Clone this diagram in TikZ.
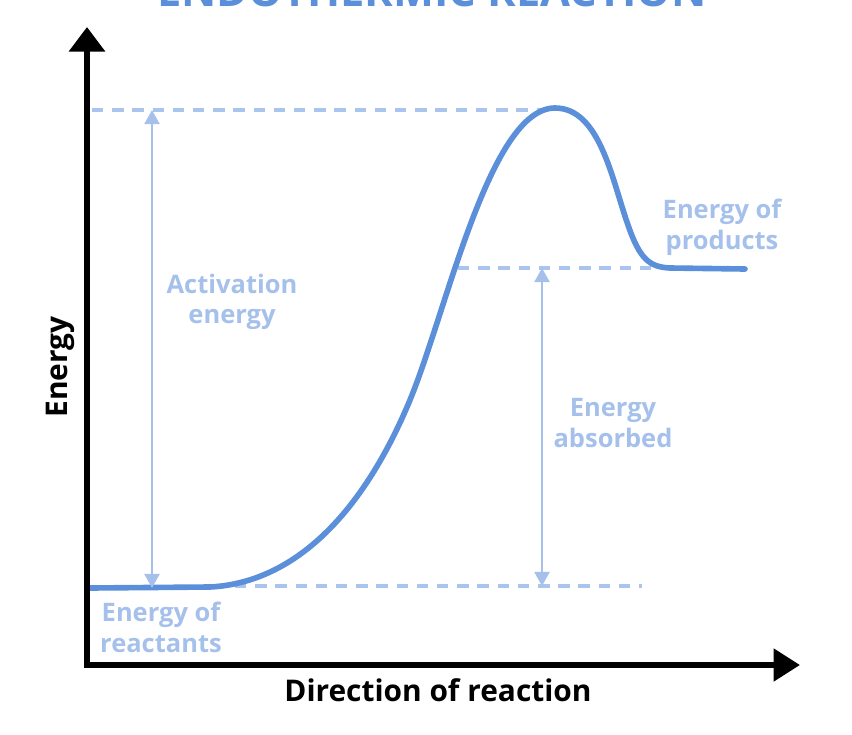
\documentclass[tikz,border=0pt]{standalone}
\usepackage{fontspec}
\setmainfont{Open Sans}
\usetikzlibrary{arrows.meta, positioning, calc}
\definecolor{curveblue}{HTML}{5B8FD9}
\definecolor{paleblue}{HTML}{A5C1EB}
\definecolor{dashblue}{HTML}{A9C5EE}
\tikzset{
  axis/.style={line width=3.4pt, {Triangle[length=14pt, width=20pt]}-{Triangle[length=15pt, width=18pt]}},
  profile/.style={draw=curveblue, line width=3.2pt, line cap=round},
  guide/.style={draw=dashblue, line width=1.8pt, dash pattern=on 6.5pt off 5pt},
  measure/.style={draw=paleblue, line width=1.4pt, {Triangle[length=8pt, width=8.5pt]}-{Triangle[length=8pt, width=8.5pt]}},
  note/.style={text=paleblue, font=\fontsize{14.5}{17.5}\selectfont\bfseries, align=center},
  axislabel/.style={font=\fontsize{17}{20}\selectfont\bfseries},
}

\begin{document}
\begin{tikzpicture}[x=0.02cm, y=-0.02cm]
\clip (0,0) rectangle (852,734);

% Title (cut off at the top)
\node[anchor=base, text=curveblue, font=\fontsize{24.7}{30}\selectfont\bfseries] (title) at (432,6) {ENDOTHERMIC REACTION};

% Levels
\coordinate (react) at (152,588);
\coordinate (peak) at (152,110);
\coordinate (prodtop) at (542,268);
\coordinate (prodbot) at (542,586);

% Dashed guides
\draw[guide] (92,110) -- (545,110);
\draw[guide] (458,268) -- (655,268);
\draw[guide] (235,586) -- (642,586);

% Reaction profile
\draw[profile] (90,588) -- (210,587) .. controls (290,583) and (360,520) .. (410,400)
  .. controls (447,310) and (490,108) .. (555,108)
  .. controls (600,108) and (612,180) .. (628,225)
  .. controls (640,260) and (650,267) .. (670,268) -- (745,269);

% Measuring arrows
\draw[measure] (react) -- (peak);
\draw[measure] (prodtop) -- (prodbot);

% Labels
\node[note] (act) at (232,302) {Activation\\energy};
\node[note] (absorbed) at (613,423) {Energy\\absorbed};
\node[note] (products) at (722,227) {Energy of\\products};
\node[note] (reactants) at (161,627) {Energy of\\reactants};

% Axes
\coordinate (origin) at (87,665);
\coordinate (ytip) at (87,27);
\coordinate (xtip) at (800,665);
\draw[axis] (ytip) -- (origin) -- (xtip);
\node[axislabel, rotate=90] (ylab) at (60,367) {Energy};
\node[axislabel] (xlab) at (438,690) {Direction of reaction};

\end{tikzpicture}
\end{document}
